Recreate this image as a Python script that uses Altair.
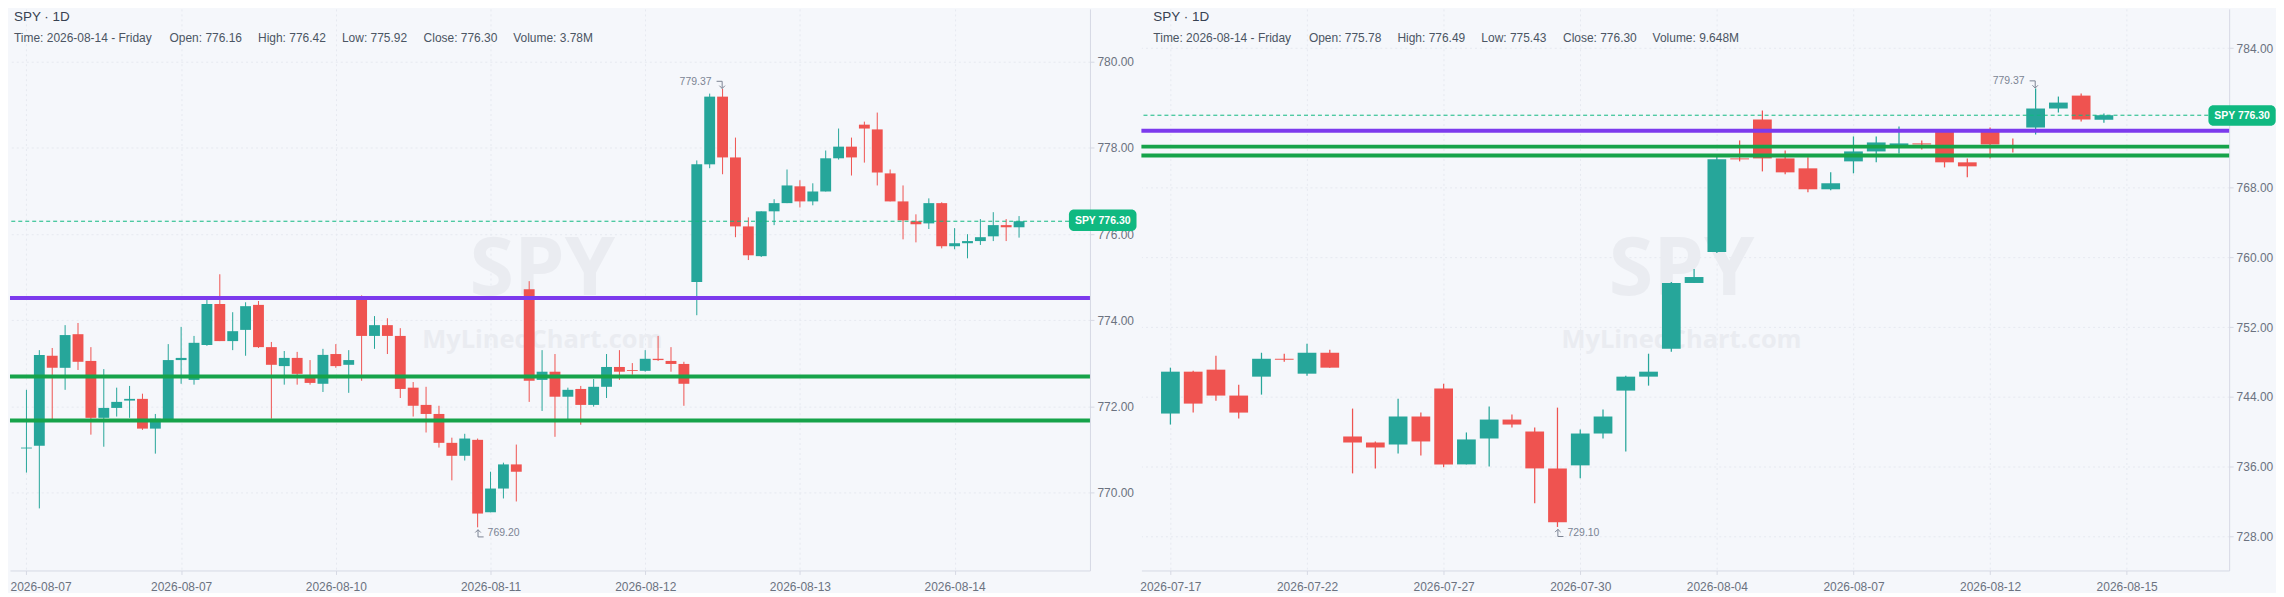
import altair as alt
import pandas as pd

FONT = "Liberation Sans"
BG = "#f5f7fb"
UP = "#26a69a"
DOWN = "#ef5350"
TEXT = "#4b5563"
AXIS_TEXT = "#6b7280"

# left chart, 78 candles
left_open = [771.03, 771.09, 773.18, 772.90, 773.68, 773.06, 771.74, 771.97, 772.14, 772.18, 771.49, 771.67, 773.08,
             772.62, 773.43, 774.38, 773.52, 773.78, 774.36, 773.38, 772.94, 773.13, 772.67, 772.53, 773.22, 772.97,
             774.56, 773.64, 773.89, 773.64, 772.44, 772.04, 771.83, 771.16, 770.86, 771.23, 769.55, 770.10, 770.66,
             774.72, 772.62, 772.81, 772.23, 772.41, 772.04, 772.46, 772.92, 772.85, 772.83, 773.11, 773.06, 772.99,
             774.89, 777.62, 779.19, 777.78, 776.18, 775.49, 776.53, 776.72, 777.11, 776.76, 776.99, 777.76, 778.03,
             778.54, 778.43, 777.41, 776.76, 776.30, 776.25, 776.72, 775.72, 775.79, 775.84, 775.95, 776.21, 776.16]
left_close = [771.05, 773.20, 772.90, 773.66, 773.04, 771.74, 771.97, 772.11, 772.18, 771.49, 771.72, 773.08, 773.13,
              773.48, 774.38, 773.52, 773.75, 774.33, 773.38, 772.97, 773.13, 772.76, 772.55, 773.20, 772.94, 773.08,
              773.64, 773.89, 773.64, 772.41, 772.02, 771.83, 771.16, 770.86, 771.26, 769.52, 770.10, 770.66, 770.49,
              772.60, 772.81, 772.23, 772.39, 772.04, 772.46, 772.92, 772.81, 772.83, 773.11, 773.08, 772.99, 772.53,
              777.62, 779.19, 777.78, 776.18, 775.51, 776.53, 776.72, 777.13, 776.76, 776.99, 777.76, 778.03, 777.78,
              778.45, 777.43, 776.76, 776.32, 776.23, 776.72, 775.72, 775.79, 775.84, 775.93, 776.21, 776.16, 776.30]
left_high = [772.39, 773.31, 773.36, 773.89, 773.94, 773.38, 772.87, 772.44, 772.48, 772.30, 771.83, 773.45, 773.85,
             773.64, 774.56, 775.07, 774.19, 774.42, 774.45, 773.50, 773.29, 773.27, 773.08, 773.34, 773.45, 773.31,
             774.58, 774.10, 774.05, 773.82, 772.57, 772.46, 772.02, 771.28, 771.37, 771.26, 770.49, 770.70, 771.12,
             774.91, 773.31, 773.22, 772.44, 772.48, 772.64, 773.22, 773.31, 773.01, 773.31, 773.64, 773.38, 773.04,
             777.71, 779.26, 779.37, 778.24, 776.39, 776.53, 776.81, 777.50, 777.25, 777.18, 777.94, 778.45, 778.24,
             778.61, 778.82, 777.50, 777.13, 776.46, 776.83, 776.74, 776.14, 776.00, 776.35, 776.51, 776.35, 776.42]
left_low = [770.47, 769.64, 771.70, 772.39, 772.85, 771.35, 771.07, 771.77, 771.74, 771.46, 770.91, 771.67, 772.53,
            772.51, 773.41, 773.52, 773.31, 773.18, 773.36, 771.72, 772.51, 772.51, 772.51, 772.34, 772.90, 772.32,
            772.60, 773.34, 773.22, 772.20, 771.77, 771.40, 771.05, 770.29, 770.75, 769.20, 769.55, 769.87, 769.80,
            772.11, 771.90, 771.30, 771.67, 771.58, 772.00, 772.20, 772.62, 772.74, 772.81, 773.06, 772.81, 772.02,
            774.12, 777.53, 777.39, 775.93, 775.40, 775.47, 776.21, 776.72, 776.62, 776.67, 776.99, 777.73, 777.36,
            777.66, 777.13, 776.76, 775.88, 775.81, 776.12, 775.67, 775.65, 775.44, 775.75, 775.84, 775.84, 775.92]

# right chart, 42 candles
right_open = [742.10, 746.90, 747.13, 744.16, 746.33, 748.38, 746.67, 749.07, 739.47, 738.78, 738.56, 741.76, 744.96,
              736.27, 739.24, 741.41, 740.04, 735.81, 736.16, 739.81, 744.73, 746.33, 749.53, 757.07, 760.61, 771.35,
              775.81, 771.35, 770.21, 767.81, 771.01, 772.15, 772.84, 773.07, 774.63, 770.90, 774.55, 772.72, 774.89,
              777.07, 778.55, 775.78]
right_close = [746.90, 743.24, 744.16, 742.21, 748.38, 748.27, 749.07, 747.36, 738.78, 738.21, 741.76, 738.90, 736.27,
               739.13, 741.41, 740.84, 735.81, 729.64, 739.81, 741.76, 746.33, 746.90, 757.07, 757.75, 771.24, 771.24,
               771.35, 769.75, 767.81, 768.50, 772.15, 773.18, 773.07, 772.95, 770.90, 770.44, 772.95, 772.61, 777.07,
               777.75, 775.81, 776.30]
right_high = [747.36, 747.01, 748.73, 745.41, 749.07, 748.96, 750.10, 749.41, 742.67, 738.90, 743.81, 742.21, 745.53,
              739.93, 742.90, 741.98, 740.50, 742.78, 740.27, 742.56, 746.44, 748.96, 757.18, 758.67, 771.58, 773.41,
              776.84, 772.27, 771.47, 769.75, 773.87, 773.87, 775.01, 773.41, 774.70, 771.35, 774.89, 773.64, 779.37,
              778.44, 778.78, 776.49]
right_low = [740.84, 742.21, 743.58, 741.53, 744.27, 748.04, 746.44, 747.36, 735.24, 735.81, 737.53, 737.30, 735.93,
             736.27, 736.04, 740.50, 731.81, 729.10, 734.67, 739.24, 737.76, 745.30, 749.18, 757.07, 760.50, 771.01,
             769.86, 769.52, 767.47, 767.70, 769.64, 770.90, 771.92, 772.38, 770.32, 769.18, 771.35, 772.04, 774.09,
             776.61, 775.58, 775.43]

left_ticks = [780, 778, 776, 774, 772, 770]
right_ticks = [784, 768, 760, 752, 744, 736, 728]
left_dates = ["2026-08-07", "2026-08-07", "2026-08-10", "2026-08-11", "2026-08-12", "2026-08-13", "2026-08-14"]
right_dates = ["2026-07-17", "2026-07-22", "2026-07-27", "2026-07-30", "2026-08-04", "2026-08-07", "2026-08-12",
               "2026-08-15"]

purple_level = 774.52
green_levels = [772.70, 771.68]
last_price = 776.30

left_info = ["Time: 2026-08-14 - Friday", "Open: 776.16", "High: 776.42", "Low: 775.92", "Close: 776.30",
             "Volume: 3.78M"]
right_info = ["Time: 2026-08-14 - Friday", "Open: 775.78", "High: 776.49", "Low: 775.43", "Close: 776.30",
              "Volume: 9.648M"]
info_x = [12, 168, 256.8, 341, 422.9, 512.8]


def panel(opens, closes, highs, lows, ticks, dates, step, info, cfg):
    df = pd.DataFrame({"i": range(len(opens)), "open": opens, "close": closes, "high": highs, "low": lows})
    df["dir"] = ["up" if c >= o else "down" for o, c in zip(opens, closes)]

    # bars on a continuous x get extra padding unless it is switched off
    xs = alt.Scale(domain=cfg["xdomain"], nice=False, zero=False, padding=0)
    ys = alt.Scale(domain=cfg["ydomain"], nice=False, zero=False)
    dir_color = alt.Color("dir:N", scale=alt.Scale(domain=["up", "down"], range=[UP, DOWN]), legend=None)
    tick_pos = [step * n for n in range(len(dates))]
    label_expr = "[" + ",".join(f"'{d}'" for d in dates) + "][datum.value/" + str(step) + "]"

    x_axis = alt.Axis(values=tick_pos, labelExpr=label_expr, title=None, grid=True, gridDash=[2, 3],
                      gridColor="#e6e9f0", domainColor="#d6d9e4", tickColor="#d6d9e4", tickSize=4,
                      labelColor=AXIS_TEXT, labelFont=FONT, labelFontSize=12, labelPadding=7, labelOverlap=False,
                      **cfg["flush"])
    y_axis = alt.Axis(values=ticks, format=".2f", orient="right", title=None, grid=True, gridDash=[2, 3],
                      gridColor="#e6e9f0", domainColor="#d6d9e4", tickColor="#d6d9e4", tickSize=4,
                      labelColor=AXIS_TEXT, labelFont=FONT, labelFontSize=12, labelPadding=3)

    x = alt.X("i:Q", scale=xs, axis=x_axis)
    layers = []

    # watermark sits under the candles
    mark_x = cfg["mark_x"]
    wm = pd.DataFrame({"t": ["SPY"]})
    layers.append(alt.Chart(wm).mark_text(font="Open Sans", fontWeight="bold", fontSize=81, color="#eaecf1").encode(
        x=alt.value(mark_x), y=alt.value(263), text="t:N"))
    wm2 = pd.DataFrame({"t": ["MyLinedChart.com"]})
    layers.append(alt.Chart(wm2).mark_text(font="Open Sans", fontWeight="bold", fontSize=25.5, color="#eaecf1").encode(
        x=alt.value(mark_x), y=alt.value(332), text="t:N"))

    wicks = alt.Chart(df).mark_rule(strokeWidth=cfg["wick"]).encode(
        x=x, y=alt.Y("high:Q", scale=ys, axis=y_axis), y2="low:Q", color=dir_color)
    bodies = alt.Chart(df).mark_bar(size=cfg["body"]).encode(
        x=x, y=alt.Y("open:Q", scale=ys, axis=y_axis), y2="close:Q", color=dir_color)
    layers += [wicks, bodies]

    # horizontal levels
    level_y = alt.Y("p:Q", scale=ys, axis=y_axis)
    price = alt.Chart(pd.DataFrame({"p": [last_price]})).mark_rule(
        color="#10b981", strokeWidth=1, strokeDash=[4, 3]).encode(y=level_y)
    greens = alt.Chart(pd.DataFrame({"p": green_levels})).mark_rule(color="#16a34a", strokeWidth=4).encode(y=level_y)
    purple = alt.Chart(pd.DataFrame({"p": [purple_level]})).mark_rule(color="#7c3aed", strokeWidth=4).encode(y=level_y)
    layers += [price, greens, purple]

    # high / low notes
    hi_i = highs.index(max(highs))
    lo_i = lows.index(min(lows))
    hi = pd.DataFrame({"i": [hi_i], "p": [highs[hi_i]], "t": [f"{highs[hi_i]:.2f}"]})
    lo = pd.DataFrame({"i": [lo_i], "p": [lows[lo_i]], "t": [f"{lows[lo_i]:.2f}"]})
    layers.append(alt.Chart(hi).mark_text(font=FONT, fontSize=10.5, color="#7b8494", align="right", dx=-11, dy=-7).encode(
        x=x, y=level_y, text="t:N"))
    layers.append(alt.Chart(lo).mark_text(font=FONT, fontSize=10.5, color="#7b8494", align="left", dx=10, dy=6).encode(
        x=x, y=level_y, text="t:N"))
    layers.append(alt.Chart(hi).mark_point(
        shape="M-1,-0.9 L0.4,-0.9 L0.4,0.9 M-0.3,0.2 L0.4,0.9 L1.1,0.2", size=64, color="#7b8494", strokeWidth=1,
        opacity=1, xOffset=-2, yOffset=-4).encode(x=x, y=level_y))
    layers.append(alt.Chart(lo).mark_point(
        shape="M-0.4,-0.9 L-0.4,0.9 L1,0.9 M-1.1,-0.2 L-0.4,-0.9 L0.3,-0.2", size=64, color="#7b8494", strokeWidth=1,
        opacity=1, xOffset=2, yOffset=6).encode(x=x, y=level_y))

    # last price tag
    tag_x, tag_x2, tag_y, tag_y2 = cfg["tag"]
    layers.append(alt.Chart(pd.DataFrame({"a": [0]})).mark_rect(cornerRadius=5, color="#10b981").encode(
        x=alt.value(tag_x), x2=alt.value(tag_x2), y=alt.value(tag_y), y2=alt.value(tag_y2)))
    tag = pd.DataFrame({"t": [f"SPY {last_price:.2f}"]})
    layers.append(alt.Chart(tag).mark_text(font=FONT, fontWeight="bold", fontSize=10.5, color="white").encode(
        x=alt.value((tag_x + tag_x2) / 2), y=alt.value((tag_y + tag_y2) / 2 + 0.5), text="t:N"))

    # header
    shift = cfg["shift"]
    head = pd.DataFrame({"t": ["SPY \u00b7 1D"]})
    layers.append(alt.Chart(head).mark_text(font=FONT, fontSize=13.5, color="#374151", align="left").encode(
        x=alt.value(12 + shift), y=alt.value(8), text="t:N"))
    for txt, px in zip(info, info_x):
        line = pd.DataFrame({"t": [txt]})
        layers.append(alt.Chart(line).mark_text(font=FONT, fontSize=12, color=TEXT, align="left").encode(
            x=alt.value(px + shift), y=alt.value(29.7), text="t:N"))

    return alt.layer(*layers).properties(width=cfg["w"], height=563.3)


left_chart = panel(left_open, left_close, left_high, left_low, left_ticks, left_dates, 12, left_info, {
    "xdomain": [-1.276, 82.5], "ydomain": [768.2, 781.225], "wick": 1, "body": 10.9, "mark_x": 534,
    "flush": {"labelFlush": 17, "labelFlushOffset": 16.5}, "tag": (1062.2, 1130, 201.3, 222.7), "shift": -8,
    "w": 1083.3})
right_chart = panel(right_open, right_close, right_high, right_low, right_ticks, right_dates, 6, right_info, {
    "xdomain": [-1.274, 46.5], "ydomain": [724.11, 788.49], "wick": 1.25, "body": 18.8, "mark_x": 541.8,
    "flush": {}, "tag": (1070.3, 1137.8, 96.7, 117.3), "shift": 0, "w": 1091.1})

chart = alt.hconcat(left_chart, right_chart, spacing=50.9, bounds="flush", padding=0, background=BG).configure_view(
    strokeWidth=0)

chart.save("out.html", embed_options={"renderer": "svg", "actions": False})
